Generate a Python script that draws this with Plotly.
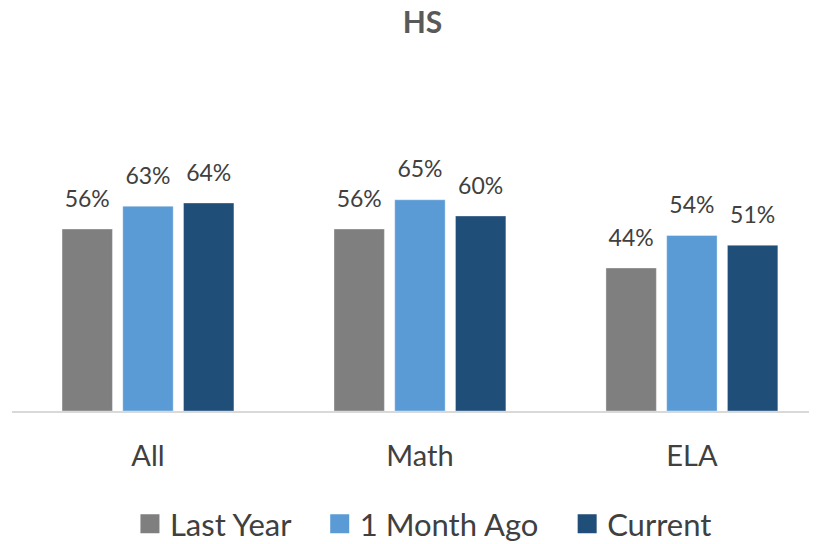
import plotly.graph_objects as go

categories = ["All", "Math", "ELA"]
series_names = ["Last Year", "1 Month Ago", "Current"]
last_year = [0.56, 0.56, 0.44]
one_month_ago = [0.63, 0.65, 0.54]
current = [0.64, 0.60, 0.51]
colors = ["#7f7f7f", "#5b9bd5", "#1f4e79"]

FONT = "Lato"
TXT = "#404040"
# the page body has an 8px margin; the figure is sized/offset to compensate
W, H = 809, 536

fig = go.Figure()
series = [last_year, one_month_ago, current]
for i, (name, vals, col) in enumerate(zip(series_names, series, colors)):
    fig.add_trace(go.Bar(
        x=categories, y=vals, name=name, offsetgroup=str(i),
        marker=dict(color=col, line=dict(width=1, color="rgba(255,255,255,0.35)")),
        showlegend=False, hoverinfo="skip",
    ))
for i, (name, vals, col) in enumerate(zip(series_names, series, colors)):
    fig.add_trace(go.Scatter(
        x=categories, y=vals, name=name, offsetgroup=str(i), mode="markers+text",
        marker=dict(size=25, opacity=0),
        text=[f"{v:.0%}" for v in vals], textposition="top center",
        textfont=dict(family=FONT, size=23, color=TXT),
        cliponaxis=False, showlegend=False, hoverinfo="skip",
    ))
pad = "\u00a0\u00a0\u00a0"
for j, (name, col) in enumerate(zip(series_names, colors)):
    fig.add_trace(go.Scatter(
        x=[None], y=[None], mode="markers",
        name=name + (pad if j < len(series_names) - 1 else ""),
        marker=dict(symbol="square", size=16, color=col, line=dict(width=3, color=col)),
    ))

fig.update_layout(
    width=W, height=H,
    paper_bgcolor="white", plot_bgcolor="white",
    margin=dict(l=4, r=0, t=78, b=133),
    title=dict(text="<b>HS</b>", x=0.5 + 10/W, xanchor="center", y=1 - 4/H, yanchor="top",
               font=dict(family=FONT, size=30, color="#595959")),
    bargap=0.33, bargroupgap=0.17,
    scattermode="group", scattergap=0.33,
    font=dict(family=FONT, color=TXT),
    legend=dict(orientation="h", x=0.5 + 9/W, xanchor="center", yref="container", y=1 - 516/H,
                yanchor="middle", font=dict(family=FONT, size=31, color=TXT),
                itemwidth=30, tracegroupgap=0),
)
fig.update_xaxes(range=[-0.5, 2.46], showline=True, linecolor="#d9d9d9", linewidth=1.5,
                 ticks="outside", ticklen=18, tickcolor="rgba(0,0,0,0)",
                 tickfont=dict(family=FONT, size=29, color=TXT), showgrid=False)
fig.update_yaxes(range=[0, 1], visible=False, showgrid=False)

fig.write_html("out.html")
